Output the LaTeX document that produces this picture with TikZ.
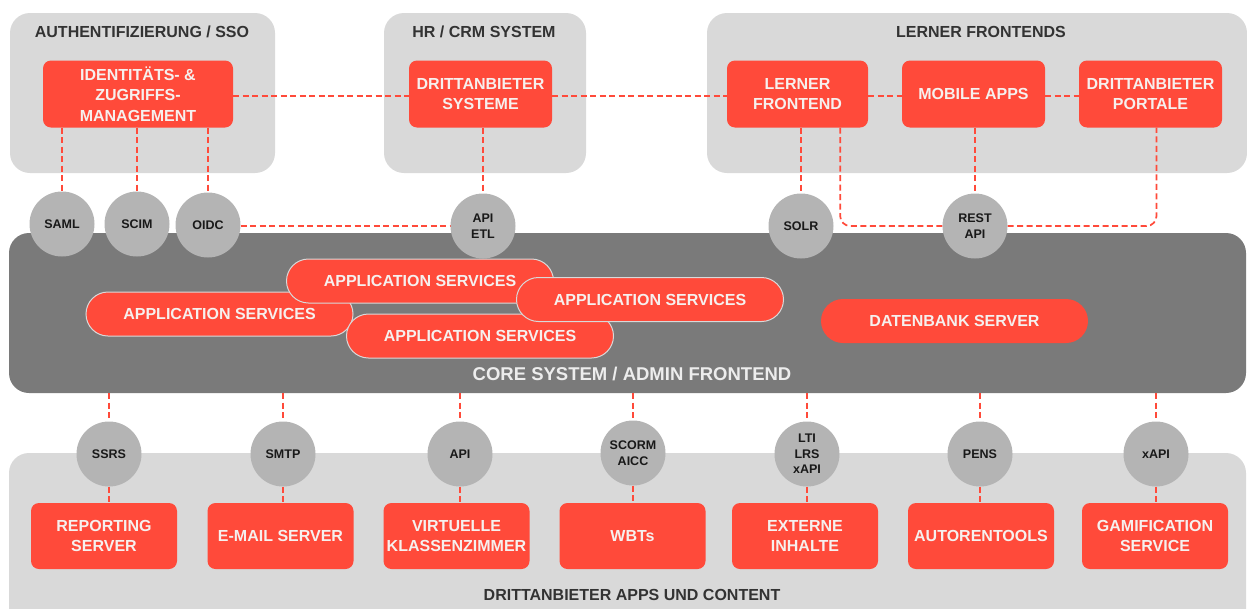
\documentclass[tikz,border=0pt]{standalone}
\usepackage{fontspec}
\setmainfont{Liberation Sans}
\definecolor{rd}{HTML}{FF4A3A}
\definecolor{lg}{HTML}{D9D9D9}
\definecolor{cg}{HTML}{B4B4B4}
\definecolor{dg}{HTML}{7A7A7A}
\definecolor{tx}{HTML}{333333}
\definecolor{wt}{HTML}{F6F0EE}
\definecolor{ct}{HTML}{EDEDED}
\pgfdeclarelayer{back}
\pgfdeclarelayer{mid}
\pgfsetlayers{back,mid,main}
\begin{document}
\begin{tikzpicture}[x=1pt,y=-1pt,
 panel/.style={fill=lg, rounded corners=20pt, inner sep=0pt},
 corebox/.style={fill=dg, rounded corners=20pt, inner sep=0pt},
 rbox/.style={fill=rd, rounded corners=8pt, text=wt, font=\bfseries\fontsize{16}{20.5}\selectfont, align=center, inner sep=0pt, minimum height=67pt, minimum width=143pt},
 pill/.style={fill=rd, draw=lg, line width=1pt, rounded corners=22pt, text=wt, font=\bfseries\fontsize{16}{20}\selectfont, inner sep=0pt, minimum height=44pt, minimum width=267pt},
 proto/.style={circle, fill=cg, minimum size=65pt, inner sep=0pt, text=black!90, font=\bfseries\fontsize{12.5}{15.5}\selectfont, align=center},
 conn/.style={draw=rd, line width=1.7pt, dash pattern=on 6pt off 3.5pt},
 title/.style={text=tx, font=\bfseries\fontsize{16}{20}\selectfont}
]
\useasboundingbox (0,0) rectangle (1247,608);
\clip (0,0) rectangle (1247,608);

\begin{pgfonlayer}{back}
\node[panel, minimum width=265pt, minimum height=160pt] (auth) at (142.5,93) {};
\node[panel, minimum width=202pt, minimum height=160pt] (hr) at (485,93) {};
\node[panel, minimum width=540pt, minimum height=160pt] (lern) at (977,93) {};
\node[corebox, minimum width=1237pt, minimum height=160pt] (core) at (627.5,313) {};
\node[panel, minimum width=1237pt, minimum height=187pt] (bottom) at (627.5,546.5) {};
\end{pgfonlayer}

% titles
\node[title] (tauth) at (142,32) {AUTHENTIFIZIERUNG / SSO};
\node[title] (thr) at (484,32) {HR / CRM SYSTEM};
\node[title] (tlern) at (981,32) {LERNER FRONTENDS};
\node[text=ct, font=\bfseries\fontsize{18.5}{22}\selectfont] (tcore) at (632,374) {CORE SYSTEM / ADMIN FRONTEND};
\node[title] (tbottom) at (632,595) {DRITTANBIETER APPS UND CONTENT};

% top boxes
\node[rbox, minimum width=190pt] (iam) at (138,94) {IDENTITÄTS- \&\\ZUGRIFFS-\\MANAGEMENT};
\node[rbox] (ds) at (480.5,94) {DRITTANBIETER\\SYSTEME};
\node[rbox, minimum width=141pt] (lf) at (797.5,94) {LERNER\\FRONTEND};
\node[rbox] (ma) at (973.5,94) {MOBILE APPS};
\node[rbox] (dp) at (1150.5,94) {DRITTANBIETER\\PORTALE};

% top protocol circles
\node[proto] (saml) at (62,224) {SAML};
\node[proto] (scim) at (137,224) {SCIM};
\node[proto] (oidc) at (208,225) {OIDC};
\node[proto] (apietl) at (483,226) {API\\ETL};
\node[proto] (solr) at (801,226) {SOLR};
\node[proto] (rest) at (975,226) {REST\\API};

% core services
\node[pill] (as2) at (219.5,314) {APPLICATION SERVICES};
\node[pill] (as4) at (480,336) {APPLICATION SERVICES};
\node[pill] (as1) at (420,281) {APPLICATION SERVICES};
\node[pill] (as3) at (650,299.5) {APPLICATION SERVICES};
\node[pill, draw=none] (db) at (954.5,321) {DATENBANK SERVER};

% bottom circles
\node[proto] (ssrs) at (109,454) {SSRS};
\node[proto] (smtp) at (283,454) {SMTP};
\node[proto] (api) at (460,454) {API};
\node[proto] (scorm) at (633,453) {SCORM\\AICC};
\node[proto] (lti) at (807,454) {LTI\\LRS\\xAPI};
\node[proto] (pens) at (980,454) {PENS};
\node[proto] (xapi) at (1156,454) {xAPI};

% bottom boxes
\node[rbox, minimum width=146pt, minimum height=66pt] (rep) at (104,536) {REPORTING\\SERVER};
\node[rbox, minimum width=146pt, minimum height=66pt] (mail) at (280.5,536) {E-MAIL SERVER};
\node[rbox, minimum width=146pt, minimum height=66pt] (vk) at (456.5,536) {VIRTUELLE\\KLASSENZIMMER};
\node[rbox, minimum width=146pt, minimum height=66pt] (wbt) at (632.5,536) {WBTs};
\node[rbox, minimum width=146pt, minimum height=66pt] (ext) at (805,536) {EXTERNE\\INHALTE};
\node[rbox, minimum width=146pt, minimum height=66pt] (aut) at (981,536) {AUTORENTOOLS};
\node[rbox, minimum width=146pt, minimum height=66pt] (gam) at (1155,536) {GAMIFICATION\\SERVICE};

\begin{pgfonlayer}{mid}
\draw[conn] ([yshift=-2pt]iam.east) -- ([yshift=-2pt]ds.west);
\draw[conn] ([yshift=-2pt]ds.east) -- ([yshift=-2pt]lf.west);
\draw[conn] ([yshift=-2pt]lf.east) -- ([yshift=-2pt]ma.west);
\draw[conn] ([yshift=-2pt]ma.east) -- ([yshift=-2pt]dp.west);
\draw[conn] (saml.north |- iam.south) -- (saml.north);
\draw[conn] (scim.north |- iam.south) -- (scim.north);
\draw[conn] (oidc.north |- iam.south) -- (oidc.north);
\draw[conn] (oidc.east |- apietl.west) -- (apietl.west);
\draw[conn] (apietl.north |- ds.south) -- (apietl.north);
\draw[conn] (solr.north |- lf.south) -- (solr.north);
\draw[conn] (rest.north |- ma.south) -- (rest.north);
\draw[conn, rounded corners=10pt] ([xshift=-28pt]lf.south east) |- (rest.west);
\draw[conn, rounded corners=10pt] (rest.east) -| ([xshift=6pt]dp.south);
\foreach \c/\b in {ssrs/rep, smtp/mail, api/vk, scorm/wbt, lti/ext, pens/aut, xapi/gam}{
  \draw[conn] (\c.north |- core.south) -- (\c.north);
  \draw[conn] (\c.south) -- (\c.south |- \b.north);
}
\end{pgfonlayer}
\end{tikzpicture}
\end{document}
